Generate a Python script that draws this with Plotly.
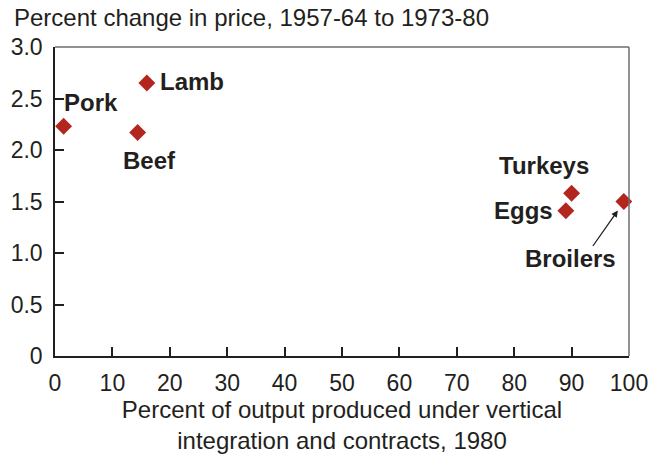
import plotly.graph_objects as go

# Data
commodities = ["Pork", "Beef", "Lamb", "Eggs", "Turkeys", "Broilers"]
pct_integrated = [1.5, 14.4, 16.0, 89.0, 90.0, 99.1]
price_change = [2.23, 2.17, 2.65, 1.41, 1.58, 1.50]
x_ticks = [0, 10, 20, 30, 40, 50, 60, 70, 80, 90, 100]
y_ticks = [0, 0.5, 1.0, 1.5, 2.0, 2.5, 3.0]
y_tick_labels = ["0", "0.5", "1.0", "1.5", "2.0", "2.5", "3.0"]

# Styling: label pixel offsets relative to points
label_offsets = {
    "Pork": (-2, 24),
    "Lamb": (11, 2),
    "Beef": (-17, -28),
    "Turkeys": (-75, 28),
    "Eggs": (-74, 0),
    "Broilers": (-101, -57),
}

FONT = "Liberation Sans, Arial, sans-serif"
RED = "#B3261E"
INK = "#231F20"

fig = go.Figure()
fig.add_trace(go.Scatter(
    x=pct_integrated, y=price_change, mode="markers",
    marker=dict(symbol="diamond", size=13, color=RED, line=dict(width=0)),
    hoverinfo="skip", showlegend=False, cliponaxis=False,
))

annotations = []
for name, xv, yv in zip(commodities, pct_integrated, price_change):
    dx, dy = label_offsets[name]
    annotations.append(dict(
        x=xv, y=yv, xref="x", yref="y", text="<b>%s</b>" % name,
        showarrow=False, xanchor="left", yanchor="middle",
        xshift=dx, yshift=dy,
        font=dict(family=FONT, size=24, color=INK),
    ))

# Arrow to Broilers
bi = commodities.index("Broilers")
annotations.append(dict(
    x=pct_integrated[bi], y=price_change[bi], xref="x", yref="y", text="",
    showarrow=True, arrowhead=2, arrowsize=1, arrowwidth=1.3, arrowcolor=INK,
    ax=-26, ay=37, xshift=-6, yshift=-9, standoff=0, startstandoff=0,
))

# Y-axis title at top
annotations.append(dict(
    x=0, y=1, xref="paper", yref="paper", xanchor="left", yanchor="middle",
    text="Percent change in price, 1957-64 to 1973-80", showarrow=False,
    font=dict(family=FONT, size=24, color=INK),
    xshift=-43, yshift=30,
))

# The page body has an 8px default margin, so the figure is sized to fit the window
fig.update_layout(
    width=649, height=446,
    margin=dict(l=47, r=28, t=39, b=98),
    paper_bgcolor="white", plot_bgcolor="white",
    annotations=annotations,
    font=dict(family=FONT, size=23, color=INK),
    shapes=[
        dict(type="line", xref="paper", yref="paper", x0=0, x1=1, y0=1, y1=1,
             line=dict(color="#6d6e71", width=1.5)),
        dict(type="line", xref="paper", yref="paper", x0=1, x1=1, y0=0, y1=1,
             line=dict(color="#6d6e71", width=1.5)),
    ],
)

fig.update_xaxes(
    range=[0, 100], tickvals=x_ticks, ticks="inside", ticklen=9, tickwidth=1.5,
    tickcolor=INK, showline=True, linecolor=INK, linewidth=1.5,
    showgrid=False, zeroline=False, ticklabelstandoff=6, automargin=False,
    ticklabeloverflow="allow",
    tickfont=dict(family=FONT, size=23, color=INK),
    title=dict(text="Percent of output produced under vertical<br>integration and contracts, 1980",
               font=dict(family=FONT, size=24, color=INK), standoff=14),
)
fig.update_yaxes(
    range=[0, 3.0], tickvals=y_ticks, ticktext=y_tick_labels, ticks="inside",
    ticklen=9, tickwidth=1.5, tickcolor=INK,
    showline=True, linecolor=INK, linewidth=1.5,
    showgrid=False, zeroline=False, ticklabelstandoff=6, automargin=False,
    tickfont=dict(family=FONT, size=23, color=INK),
)

fig.write_html("out.html")
